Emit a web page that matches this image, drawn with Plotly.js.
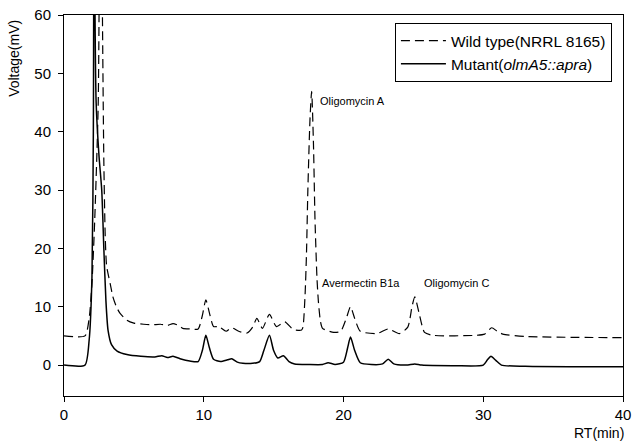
<!DOCTYPE html>
<html>
<head>
<meta charset="utf-8">
<script src="https://cdn.plot.ly/plotly-3.0.1.min.js"></script>
<style>html,body{margin:0;padding:0;background:#fff}#chart{width:632px;height:441px}</style>
</head>
<body>
<div id="chart"></div>
<script>
// Retention time (min) and voltage (mV)
const wildRT = [0,1.5,1.8,2.0,2.2,2.45,2.62,2.75,2.85,2.95,3.05,3.3,3.5,3.75,4.0,4.5,5.0,5.7,6.3,6.9,7.4,7.8,8.2,8.5,9.0,9.6,9.9,10.15,10.4,10.7,11.0,11.2,11.6,12.0,12.5,13.1,13.5,13.8,14.2,14.7,15.2,15.8,16.4,17.0,17.1,17.25,17.35,17.45,17.6,17.72,17.85,17.96,18.1,18.2,18.35,18.5,19.3,19.8,20.2,20.5,20.8,21.2,22.4,23.2,24.0,24.6,24.9,25.1,25.4,25.8,26.4,29.5,30.1,30.6,31.0,31.4,33,40];
const wildV  = [5,5,8,14,25,45,100,60,35,22,17,14,11.7,10,8.9,7.7,7.2,7.0,6.9,7.0,6.8,7.1,6.8,6.3,6.2,6.2,8.5,11.2,9,6.6,6.6,6.4,5.8,6.4,5.8,5.5,6.5,8.0,6.3,8.7,6.6,7.4,6.1,6.0,6.5,12,19,30,42,46.9,38,25,15,11,7.5,6.3,5.6,5.8,8,10.0,8,5.8,5.4,6.2,5.4,6.5,10,11.7,9,5.6,5.1,5.1,5.3,6.4,5.8,5.3,4.9,4.7];
const mutRT  = [0,1.5,1.8,2.0,2.1,2.16,2.22,2.3,2.5,2.7,2.85,3.0,3.15,3.4,3.8,4.5,5.5,6.5,7.0,7.4,7.8,8.3,9.0,9.6,9.9,10.15,10.4,10.7,11.2,11.7,12.0,12.4,12.8,13.5,14.0,14.3,14.7,15.0,15.3,15.7,16.1,16.5,17.5,18.5,18.9,19.4,20.0,20.3,20.5,20.8,21.2,22,22.8,23.2,23.6,24.5,25.1,25.6,28,30.0,30.3,30.55,30.9,31.3,33,40];
const mutV   = [0,0,4.3,15,40,100,60,45,36,30,20,11,6,3.5,2.4,1.8,1.5,1.4,1.6,1.3,1.5,1.1,0.7,0.6,2.5,5.1,3.0,1.0,0.6,0.9,1.1,0.5,0.3,0.3,0.6,2.5,5.1,2.5,1.2,1.6,0.6,0.2,0.1,0.1,0.4,0.1,0.5,3,4.8,2.5,0.4,0.1,0.2,1.0,0.2,0,0.2,0,-0.1,0,0.9,1.5,0.8,0,-0.2,-0.3];
const seriesNames = ['Wild type(NRRL 8165)', 'Mutant(<i>olmA5::apra</i>)'];
const peakLabels = ['Oligomycin A', 'Avermectin B1a', 'Oligomycin C'];
const peakLabelRT = [18.15, 18.3, 25.6];
const peakLabelV = [45.3, 14.0, 14.0];
const xTicks = [0,10,20,30,40];
const yTicks = [0,10,20,30,40,50,60];

const font = 'Liberation Sans, Arial, sans-serif';
const traces = [
  {x: wildRT, y: wildV, name: seriesNames[0], type: 'scatter', mode: 'lines',
   line: {color: '#000', width: 1.2, dash: '9px,5px', shape: 'spline', smoothing: 0.6}},
  {x: mutRT, y: mutV, name: seriesNames[1], type: 'scatter', mode: 'lines',
   line: {color: '#000', width: 1.5, shape: 'spline', smoothing: 0.6}}
];
const annotations = peakLabels.map((t, i) => ({
  x: peakLabelRT[i], y: peakLabelV[i], xref: 'x', yref: 'y', text: t, showarrow: false,
  xanchor: 'left', yanchor: 'middle', font: {family: font, size: 11, color: '#000'}
}));
annotations.push({text: 'Voltage(mV)', xref: 'paper', yref: 'paper', x: -0.0894, y: 0.885,
  xanchor: 'center', yanchor: 'middle', textangle: -90, showarrow: false,
  font: {family: font, size: 14, color: '#000'}});
annotations.push({text: 'RT(min)', xref: 'paper', yref: 'paper', x: 1.006, y: -0.097,
  xanchor: 'right', yanchor: 'middle', showarrow: false,
  font: {family: font, size: 14, color: '#000'}});

const layout = {
  width: 632, height: 441,
  margin: {l: 64, r: 9, t: 15, b: 45},
  paper_bgcolor: '#fff', plot_bgcolor: '#fff',
  font: {family: font, size: 15, color: '#000'},
  showlegend: true,
  legend: {x: 0.592, y: 0.979, xanchor: 'left', yanchor: 'top', bgcolor: '#fff',
    bordercolor: '#000', borderwidth: 1, font: {family: font, size: 15.5, color: '#000'},
    tracegroupgap: 0, itemwidth: 45},
  xaxis: {range: [0, 40], tickvals: xTicks, ticktext: xTicks.map(String), ticks: 'outside',
    ticklen: 5, tickcolor: '#000', showline: true, linecolor: '#000', linewidth: 1,
    mirror: true, showgrid: false, zeroline: false, fixedrange: true,
    tickfont: {family: font, size: 15, color: '#000'}},
  yaxis: {range: [-5.3, 60], tickvals: yTicks, ticktext: yTicks.map(String), ticks: 'outside',
    ticklen: 5, tickcolor: '#000', showline: true, linecolor: '#000', linewidth: 1,
    mirror: true, showgrid: false, zeroline: false, fixedrange: true,
    tickfont: {family: font, size: 15, color: '#000'}, ticklabelstandoff: 4},
  annotations: annotations
};
Plotly.newPlot('chart', traces, layout, {displayModeBar: false, staticPlot: true});
</script>
</body>
</html>
